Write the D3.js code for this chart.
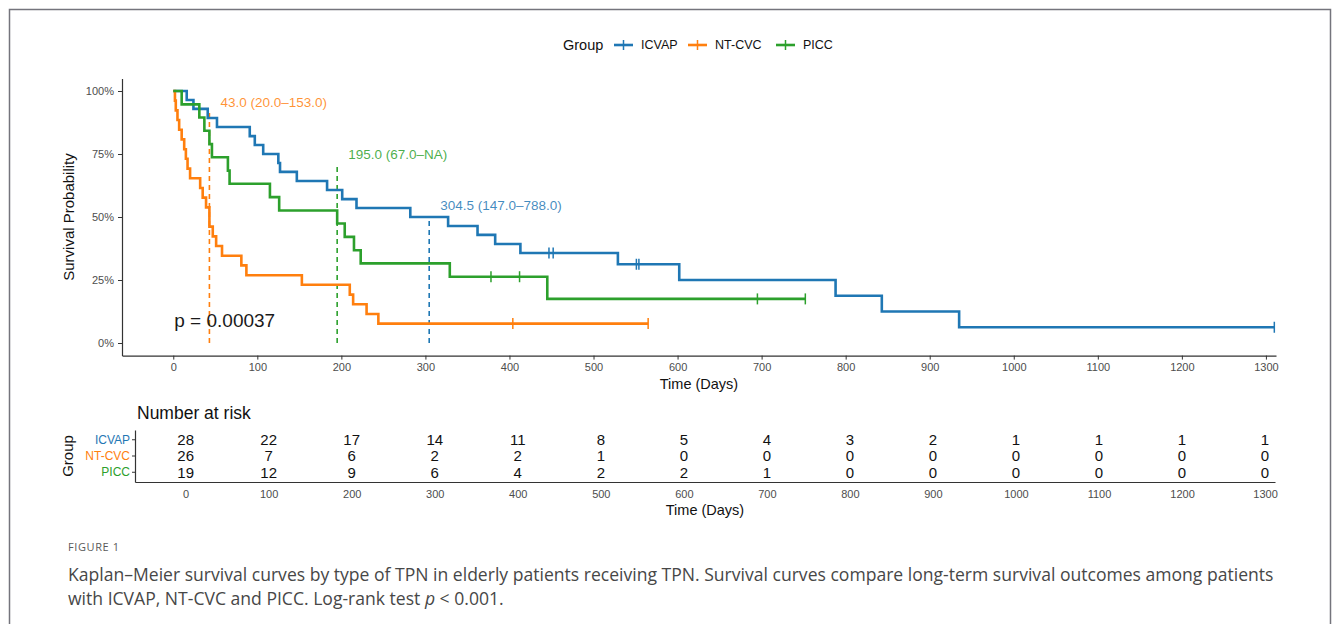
<!DOCTYPE html>
<html>
<head>
<meta charset="utf-8">
<script src="https://cdn.jsdelivr.net/npm/d3@7"></script>
<style>
  body { margin: 0; background: #fff; }
  svg text { font-family: 'Liberation Sans', Arial, sans-serif; }
  svg text.caption { font-family: 'Open Sans', 'Noto Sans', sans-serif; }
</style>
</head>
<body>
<svg id="chart" width="1333" height="624"></svg>
<script>
'use strict';

// Groups
const groups = ['ICVAP', 'NT-CVC', 'PICC'];
const colors = ['#1f77b4', '#ff7f0e', '#2ca02c'];

// Kaplan-Meier steps (time in days, survival after the step)
const icvapTimes = [0, 16, 24, 41, 52, 91, 97, 107, 125, 127, 147, 183, 201, 218, 282, 327, 362, 383, 413, 529, 602, 788, 843, 935, 1310];
const icvapSurv = [1, 0.964, 0.929, 0.893, 0.857, 0.821, 0.786, 0.75, 0.714, 0.679, 0.643, 0.607, 0.571, 0.536, 0.5, 0.464, 0.429, 0.393, 0.357, 0.3125, 0.25, 0.1875, 0.125, 0.0625, 0.0625];
const icvapCensor = [447, 452, 551, 554, 1310];

const ntcvcTimes = [0, 2, 3, 5, 7, 10, 13, 15, 17, 20, 32, 35, 39, 43, 47, 51, 58, 81, 87, 153, 210, 214, 230, 244, 565];
const ntcvcSurv = [1, 0.962, 0.923, 0.885, 0.846, 0.808, 0.769, 0.731, 0.692, 0.654, 0.615, 0.577, 0.538, 0.462, 0.423, 0.385, 0.346, 0.308, 0.269, 0.231, 0.192, 0.154, 0.115, 0.077, 0.077];
const ntcvcCensor = [404, 565];

const piccTimes = [0, 10, 31, 37, 43, 46, 65, 67, 115, 126, 195, 204, 215, 223, 329, 445, 752];
const piccSurv = [1, 0.947, 0.895, 0.842, 0.789, 0.737, 0.684, 0.632, 0.579, 0.526, 0.474, 0.421, 0.368, 0.316, 0.263, 0.175, 0.175];
const piccCensor = [378, 412, 695, 752];

// Median survival annotations
const medianTimes = [304.5, 43, 195];
const medianLabels = ['304.5 (147.0–788.0)', '43.0 (20.0–153.0)', '195.0 (67.0–NA)'];
const medianLineTop = [0.5, 0.92, 0.71];
const medianLabelAt = [0.545, 0.955, 0.75];

// Number at risk
const riskTimes = [0, 100, 200, 300, 400, 500, 600, 700, 800, 900, 1000, 1100, 1200, 1300];
const icvapRisk = [28, 22, 17, 14, 11, 8, 5, 4, 3, 2, 1, 1, 1, 1];
const ntcvcRisk = [26, 7, 6, 2, 2, 1, 0, 0, 0, 0, 0, 0, 0, 0];
const piccRisk = [19, 12, 9, 6, 4, 2, 2, 1, 0, 0, 0, 0, 0, 0];

const yTicks = [0, 0.25, 0.5, 0.75, 1];
const xTicks = d3.range(0, 1301, 100);
const pValue = 'p = 0.00037';

const curves = [
  { times: icvapTimes, surv: icvapSurv, censor: icvapCensor, risk: icvapRisk },
  { times: ntcvcTimes, surv: ntcvcSurv, censor: ntcvcCensor, risk: ntcvcRisk },
  { times: piccTimes, surv: piccSurv, censor: piccCensor, risk: piccRisk }
];

const svg = d3.select('#chart');
const AXIS_COLOR = '#333';
const TICK_TEXT = '#4d4d4d';

// Page frame
svg.append('path')
  .attr('d', 'M9.5,624V9.5H1330.5V624')
  .attr('fill', 'none')
  .attr('stroke', '#74747c')
  .attr('stroke-width', 1.5);

function styleAxis (g, fontSize) {
  g.select('.domain').attr('stroke', AXIS_COLOR).attr('stroke-width', 1.2);
  g.selectAll('.tick line').attr('stroke', AXIS_COLOR).attr('stroke-width', 1);
  g.selectAll('.tick text')
    .attr('fill', TICK_TEXT)
    .style('font-size', fontSize + 'px')
    .style('font-family', "'Liberation Sans', Arial, sans-serif");
}

// ---- Survival panel ----
const x = d3.scaleLinear().domain([-61, 1312]).range([122, 1276]);
const y = d3.scaleLinear().domain([-0.05, 1.05]).range([355.6, 78.4]);

svg.append('g')
  .attr('transform', 'translate(' + x.range()[0] + ',0)')
  .call(d3.axisLeft(y).tickValues(yTicks).tickFormat(d3.format('.0%')).tickSize(4).tickSizeOuter(0).tickPadding(4))
  .call(g => styleAxis(g, 11));

svg.append('g')
  .attr('transform', 'translate(0,' + y.range()[0] + ')')
  .call(d3.axisBottom(x).tickValues(xTicks).tickFormat(d3.format('d')).tickSize(4).tickSizeOuter(0).tickPadding(4))
  .call(g => styleAxis(g, 11));

svg.append('text')
  .attr('x', d3.mean(x.range()))
  .attr('y', 389)
  .attr('text-anchor', 'middle')
  .style('font-size', '14.5px')
  .attr('fill', '#111')
  .text('Time (Days)');

svg.append('text')
  .attr('transform', 'translate(74,' + y(0.5) + ') rotate(-90)')
  .attr('text-anchor', 'middle')
  .style('font-size', '15px')
  .attr('fill', '#111')
  .text('Survival Probability');

// Median lines and labels
const medians = svg.append('g').attr('class', 'medians');
groups.forEach((name, i) => {
  medians.append('line')
    .attr('x1', x(medianTimes[i])).attr('x2', x(medianTimes[i]))
    .attr('y1', y(0)).attr('y2', y(medianLineTop[i]))
    .attr('stroke', colors[i])
    .attr('stroke-width', 1.6)
    .attr('stroke-dasharray', '5,4');
  medians.append('text')
    .attr('x', x(medianTimes[i]) + 11)
    .attr('y', y(medianLabelAt[i]))
    .attr('dy', '0.35em')
    .attr('fill', colors[i])
    .attr('fill-opacity', 0.85)
    .style('font-size', '13.5px')
    .text(medianLabels[i]);
});

// Curves
const line = d3.line()
  .x(d => x(d.t))
  .y(d => y(d.s))
  .curve(d3.curveStepAfter);

const curveGroup = svg.append('g').attr('class', 'curves');
curves.forEach((c, i) => {
  const pts = c.times.map((t, j) => ({ t: t, s: c.surv[j] }));
  curveGroup.append('path')
    .datum(pts)
    .attr('d', line)
    .attr('fill', 'none')
    .attr('stroke', colors[i])
    .attr('stroke-width', 2.6)
    .attr('stroke-linejoin', 'miter');

  // censor marks
  const survAt = t => c.surv[d3.bisectRight(c.times, t) - 1];
  curveGroup.selectAll(null)
    .data(c.censor)
    .enter()
    .append('line')
      .attr('x1', d => x(d)).attr('x2', d => x(d))
      .attr('y1', d => y(survAt(d)) - 5.5)
      .attr('y2', d => y(survAt(d)) + 5.5)
      .attr('stroke', colors[i])
      .attr('stroke-width', 1.5);
});

svg.append('text')
  .attr('x', x(0) + 1)
  .attr('y', y(0.09))
  .attr('dy', '0.35em')
  .style('font-size', '19px')
  .attr('fill', '#1a1a1a')
  .text(pValue);

// Legend
const legend = svg.append('g').attr('class', 'legend').attr('transform', 'translate(0,45)');
legend.append('text')
  .attr('x', 563).attr('dy', '0.35em')
  .style('font-size', '14.5px')
  .attr('fill', '#111')
  .text('Group');
const legendX = [614, 688, 776];
groups.forEach((name, i) => {
  const k = legend.append('g').attr('transform', 'translate(' + legendX[i] + ',0)');
  k.append('line').attr('x1', 0).attr('x2', 19).attr('stroke', colors[i]).attr('stroke-width', 2.6);
  k.append('line').attr('x1', 9.5).attr('x2', 9.5).attr('y1', -5).attr('y2', 5).attr('stroke', colors[i]).attr('stroke-width', 1.5);
  k.append('text')
    .attr('x', 27).attr('dy', '0.35em')
    .style('font-size', '12.5px')
    .attr('fill', '#111')
    .text(name);
});

// ---- Risk table ----
const xr = d3.scaleLinear().domain([-61, 1312]).range([135, 1275]);
const yr = d3.scaleBand().domain(groups).range([430, 482]).paddingOuter(0.1);

svg.append('text')
  .attr('x', 137).attr('y', 413)
  .attr('dy', '0.35em')
  .style('font-size', '17.5px')
  .attr('fill', '#111')
  .text('Number at risk');

svg.append('g')
  .attr('transform', 'translate(' + xr.range()[0] + ',0)')
  .call(d3.axisLeft(yr).tickSize(3).tickSizeOuter(0).tickPadding(2))
  .call(g => {
    styleAxis(g, 12);
    g.selectAll('.tick text').attr('fill', (d, i) => colors[i]);
  });

svg.append('g')
  .attr('transform', 'translate(0,' + yr.range()[1] + ')')
  .call(d3.axisBottom(xr).tickValues(xTicks).tickFormat(d3.format('d')).tickSize(0).tickSizeOuter(0).tickPadding(8))
  .call(g => styleAxis(g, 11));

svg.append('text')
  .attr('x', d3.mean(xr.range()))
  .attr('y', 515)
  .attr('text-anchor', 'middle')
  .style('font-size', '14.5px')
  .attr('fill', '#111')
  .text('Time (Days)');

svg.append('text')
  .attr('transform', 'translate(73,' + d3.mean(yr.range()) + ') rotate(-90)')
  .attr('text-anchor', 'middle')
  .style('font-size', '15px')
  .attr('fill', '#111')
  .text('Group');

const riskRows = svg.append('g').attr('class', 'risk');
curves.forEach((c, i) => {
  riskRows.selectAll(null)
    .data(riskTimes.map((t, j) => ({ t: t, n: c.risk[j] })))
    .enter()
    .append('text')
      .attr('x', d => xr(d.t))
      .attr('y', yr(groups[i]) + yr.bandwidth() / 2)
      .attr('dy', '0.36em')
      .attr('text-anchor', 'middle')
      .style('font-size', '15px')
      .attr('fill', '#111')
      .text(d => d.n);
});

// ---- Caption ----
const caption = svg.append('g');
caption.append('text')
  .attr('class', 'caption')
  .attr('x', 68).attr('y', 551)
  .style('font-size', '11px')
  .style('letter-spacing', '0.6px')
  .attr('fill', '#5a5a5a')
  .text('FIGURE 1');
const line1 = caption.append('text')
  .attr('class', 'caption')
  .attr('x', 68).attr('y', 581)
  .style('font-size', '16.5px')
  .attr('fill', '#474747')
  .text('Kaplan–Meier survival curves by type of TPN in elderly patients receiving TPN. Survival curves compare long-term survival outcomes among patients');
const line2 = caption.append('text')
  .attr('class', 'caption')
  .attr('x', 68).attr('y', 605)
  .style('font-size', '16.5px')
  .attr('fill', '#474747');
line2.append('tspan').text('with ICVAP, NT-CVC and PICC. Log-rank test ');
line2.append('tspan').style('font-style', 'italic').text('p');
line2.append('tspan').text(' < 0.001.');

// fit the first caption line to the width it takes in the figure
const captionSize = 16.5 * 1206 / line1.node().getComputedTextLength();
line1.style('font-size', captionSize + 'px');
line2.style('font-size', captionSize + 'px');
</script>
</body>
</html>
